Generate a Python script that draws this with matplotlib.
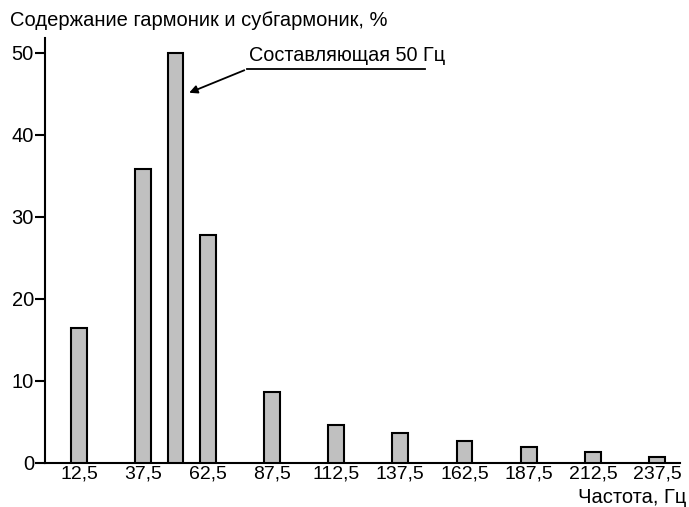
import matplotlib
matplotlib.use("Agg")
import matplotlib.pyplot as plt

plt.rcParams['font.family'] = ['Liberation Sans', 'DejaVu Sans']

freqs = [12.5, 37.5, 50, 62.5, 87.5, 112.5, 137.5, 162.5, 187.5, 212.5, 237.5]
values = [16.5, 35.8, 50.0, 27.8, 8.7, 4.6, 3.7, 2.7, 2.0, 1.4, 0.7]
xtick_vals = [12.5, 37.5, 62.5, 87.5, 112.5, 137.5, 162.5, 187.5, 212.5, 237.5]
xtick_labels = ["12,5", "37,5", "62,5", "87,5", "112,5", "137,5", "162,5", "187,5", "212,5", "237,5"]
ytick_vals = [0, 10, 20, 30, 40, 50]

fig = plt.figure(figsize=(6.89, 5.07), dpi=100)
ax = fig.add_axes([45/689, 1-463/507, (680-45)/689, (463-38)/507])

ax.bar(freqs, values, width=6.2, color='#c0c0c0', edgecolor='black', linewidth=1.5, zorder=3)

ax.set_xlim(-0.82, 246.4)
ax.set_ylim(0, 51.8)
ax.spines['top'].set_visible(False)
ax.spines['right'].set_visible(False)
ax.spines['left'].set_linewidth(1.5)
ax.spines['bottom'].set_linewidth(1.5)

ax.set_yticks(ytick_vals)
ax.set_yticklabels([str(v) for v in ytick_vals], fontsize=14.5)
ax.tick_params(axis='y', length=7, width=1.5, pad=1)
ax.set_xticks(xtick_vals)
ax.set_xticklabels(xtick_labels, fontsize=14)
ax.tick_params(axis='x', length=0, pad=1.5)

# annotation
ax.annotate("", xy=(54.3, 45.0), xytext=(77.8, 48.0),
            arrowprops=dict(arrowstyle='-|>', color='black', lw=1.3, mutation_scale=12),
            annotation_clip=False)
ax.plot([77.8, 147.1], [48.0, 48.0], color='black', lw=1.3, clip_on=False)
ax.text(78.5, 48.5, "Составляющая 50 Гц", fontsize=14.3, ha='left', va='bottom')

fig.text(10/689, 1-20/507, "Содержание гармоник и субгармоник, %", fontsize=14.5, ha='left', va='center')
fig.text(686/689, 0.0, "Частота, Гц", fontsize=14.5, ha='right', va='bottom')

fig.savefig("out.png", dpi=100)
